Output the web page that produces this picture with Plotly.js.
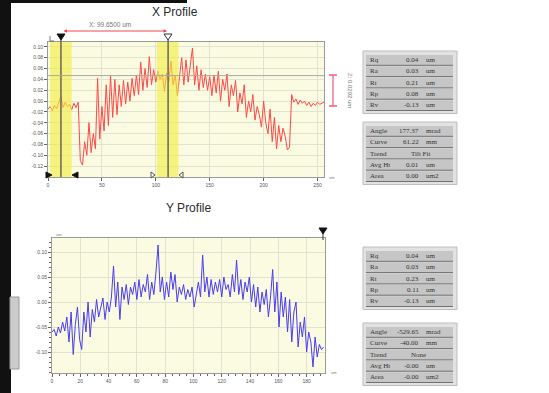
<!DOCTYPE html>
<html><head><meta charset="utf-8">
<script src="https://cdn.plot.ly/plotly-3.0.1.min.js"></script>
<style>html,body{margin:0;padding:0;background:#fff;}#c{width:549px;height:393px;}</style>
</head><body><div id="c"></div>
<script>
// ---- data ----
const xProfileStep = 2;   // um between samples
const xProfileZ = [
 -0.015,-0.010,-0.018,-0.008,-0.014,-0.004,0.009,-0.012,-0.002,-0.010,-0.006,-0.016,-0.004,-0.012,-0.002,
 -0.110,-0.118,-0.075,-0.100,-0.040,-0.095,-0.060,-0.088,0.042,-0.070,-0.010,-0.055,0.030,-0.045,0.048,
 -0.030,0.040,-0.025,0.030,-0.010,0.038,-0.005,0.035,0.000,0.042,0.010,0.048,0.012,0.072,0.020,0.060,
 0.025,0.082,0.030,0.058,0.035,0.055,0.040,0.050,0.018,0.052,0.035,0.074,0.030,0.048,0.010,0.045,
 0.080,0.030,0.076,0.035,0.070,0.098,0.030,0.065,0.020,0.058,0.025,0.050,0.020,0.045,0.010,0.048,
 0.015,0.055,0.000,0.040,0.020,0.050,-0.010,0.030,0.010,0.038,-0.020,0.015,-0.005,0.030,-0.030,0.000,
 -0.020,0.012,-0.035,-0.010,-0.025,-0.048,0.000,-0.040,-0.060,-0.015,-0.075,-0.030,-0.088,-0.045,
 -0.075,-0.050,-0.065,-0.090,-0.085,0.012,-0.002,0.004,-0.006,0.002,-0.004,0.000,-0.008,-0.002,
 -0.010,-0.004,-0.008,-0.002,-0.006,-0.004,-0.002
];
const yProfileStep = 1.5; // um between samples
const yProfileZ = [
 -0.060,-0.055,-0.068,-0.050,-0.062,-0.040,-0.058,-0.030,-0.080,-0.020,-0.105,-0.045,-0.010,-0.075,
 -0.095,-0.020,-0.060,0.000,-0.070,-0.015,-0.040,0.005,-0.030,-0.010,0.008,-0.035,0.000,-0.020,0.010,
 0.072,-0.010,0.040,-0.035,0.030,0.005,0.035,-0.005,0.030,0.015,0.040,0.005,0.045,0.010,0.035,0.020,
 0.055,0.005,0.040,0.015,0.060,0.114,0.020,0.050,0.005,0.040,0.010,0.060,0.025,0.055,0.000,0.030,
 0.015,0.035,0.005,0.025,0.010,0.030,-0.010,0.020,0.040,0.010,0.094,0.020,0.050,0.010,0.045,0.015,
 0.040,0.020,0.045,0.010,0.050,0.025,0.035,0.010,0.055,0.020,0.084,0.015,0.045,0.005,0.040,0.020,
 0.050,0.000,0.035,-0.010,0.030,-0.020,0.020,-0.005,0.025,-0.030,0.010,0.065,-0.020,0.040,-0.050,
 0.020,-0.030,0.010,-0.060,0.005,-0.080,-0.020,0.000,-0.090,-0.040,-0.070,-0.030,-0.100,-0.060,
 -0.080,-0.130,-0.070,-0.110,-0.085,-0.095,-0.090
];
const xProfileTicksX = [0,50,100,150,200,250];
const xProfileTicksY = [-0.12,-0.10,-0.08,-0.06,-0.04,-0.02,0.00,0.02,0.04,0.06,0.08,0.10];
const yProfileTicksX = [0,20,40,60,80,100,120,140,160,180];
const yProfileTicksY = [-0.10,-0.05,0.00,0.05,0.10];
const statNames = ['Rq','Ra','Rt','Rp','Rv'];
const statUnits = ['um','um','um','um','um'];
const xStatVals = ['0.04','0.03','0.21','0.08','-0.13'];
const yStatVals = ['0.04','0.03','0.23','0.11','-0.13'];
const fitNames = ['Angle','Curve','Trend','Avg Ht','Area'];
const fitUnits = ['mrad','mm','','um','um2'];
const xFitVals = ['177.37','61.22','Tilt Fit','0.01','0.00'];
const yFitVals = ['-529.65','-40.00','None','-0.00','-0.00'];
const cursorLabel = 'X: 99.6500 um';
const zLabel = 'Z: 0.0292 um';

// ---- helpers ----
const W = 549, H = 393;
const P = x => x / W;
const Q = y => 1 - y / H;
const xs1 = xProfileZ.map((_, i) => i * xProfileStep);
const xs2 = yProfileZ.map((_, i) => i * yProfileStep);

const tickFont = {family: 'Liberation Sans, Arial, sans-serif', size: 5, color: '#555'};
const shapes = [];
const ann = [];

function rectPx(x0, y0, x1, y1, fill, line, lw) {
  shapes.push({type: 'rect', xref: 'paper', yref: 'paper', x0: P(x0), x1: P(x1), y0: Q(y1), y1: Q(y0),
    fillcolor: fill, line: {color: line || fill, width: lw === undefined ? 0 : lw}, layer: 'above'});
}
function linePx(x0, y0, x1, y1, color, w) {
  shapes.push({type: 'line', xref: 'paper', yref: 'paper', x0: P(x0), x1: P(x1), y0: Q(y0), y1: Q(y1),
    line: {color: color, width: w}, layer: 'above'});
}
function pathPx(pts, fill, line) {
  const d = pts.map((p, i) => (i ? 'L' : 'M') + P(p[0]) + ',' + Q(p[1])).join(' ') + ' Z';
  shapes.push({type: 'path', xref: 'paper', yref: 'paper', path: d, fillcolor: fill,
    line: {color: line, width: 1}, layer: 'above'});
}
function textPx(x, y, t, opts) {
  ann.push(Object.assign({xref: 'paper', yref: 'paper', x: P(x), y: Q(y), text: t, showarrow: false,
    xanchor: 'left', yanchor: 'middle', font: {family: 'Liberation Serif, Times New Roman, serif', size: 7, color: '#333'}}, opts || {}));
}
function table(top, names, vals, units) {
  const rh = 11.3, n = names.length;
  rectPx(363, top - 3, 457, top + n * rh + 3, '#e2e2e2', '#bdbdbd', 1);
  for (let i = 0; i < n; i++) {
    const y0 = top + i * rh, y1 = y0 + rh;
    rectPx(366, y0 + 1, 453, y1, '#c6c6c6');
    linePx(366, y1, 453, y1, '#6f6f6f', 1);
    textPx(368, (y0 + y1) / 2 + 0.5, names[i]);
    if (units[i]) {
      textPx(421, (y0 + y1) / 2 + 0.5, vals[i], {xanchor: 'right'});
      textPx(424, (y0 + y1) / 2 + 0.5, units[i]);
    } else {
      textPx(409, (y0 + y1) / 2 + 0.5, vals[i]);
    }
  }
}

// ---- decorations ----
rectPx(0, 0, 11, 393, '#111');
rectPx(11, 0, 187, 3, '#111');
rectPx(10, 297, 19, 369, '#cbcbcb', '#9a9a9a', 1);

// yellow bands (drawn over the trace, translucent -> orange line inside)
[[2, 22], [101, 121]].forEach(b => shapes.push({type: 'rect', xref: 'x', yref: 'paper', x0: b[0], x1: b[1],
  y0: Q(177), y1: Q(42), fillcolor: '#f2ef3a', opacity: 0.6, line: {width: 0}, layer: 'above'}));
// cursor lines
[12, 111.4].forEach(c => shapes.push({type: 'line', xref: 'x', yref: 'paper', x0: c, x1: c,
  y0: Q(177), y1: Q(40), line: {color: '#666', width: 1.5}, layer: 'above'}));
// reference line
shapes.push({type: 'line', xref: 'paper', yref: 'y', x0: P(48), x1: P(324), y0: 0.047, y1: 0.047,
  line: {color: '#a8a8a0', width: 1}, layer: 'above'});

// top cursor markers
pathPx([[57, 34], [65, 34], [61, 40]], '#111', '#111');
pathPx([[164, 34], [172, 34], [168, 40]], '#fff', '#333');
linePx(50, 36, 50, 41, '#555', 0.8);
linePx(50, 41, 54, 41, '#555', 0.8);
// bottom markers
pathPx([[46, 172], [52, 175], [46, 178]], '#111', '#111');
pathPx([[78, 172], [72, 175], [78, 178]], '#111', '#111');
pathPx([[151, 172], [155, 175], [151, 178]], '#fff', '#555');
pathPx([[183, 172], [179, 175], [183, 178]], '#fff', '#555');
// Y plot marker
pathPx([[319, 228], [327, 228], [323, 234]], '#111', '#111');
linePx(323, 234, 323, 240, '#333', 1);

// red Z marker
linePx(333, 75, 333, 106, '#f05a7a', 1.2);
linePx(329, 75, 337, 75, '#f05a7a', 1.5);
linePx(329, 106, 337, 106, '#f05a7a', 1.5);
textPx(350, 90, zLabel, {xanchor: 'center', textangle: 90, font: {family: 'Liberation Sans, Arial, sans-serif', size: 6, color: '#777'}});

// red cursor distance arrow
ann.push({xref: 'paper', yref: 'paper', axref: 'paper', ayref: 'paper', x: P(167), y: Q(31), ax: P(62), ay: Q(31),
  text: '', showarrow: true, arrowside: 'end+start', arrowhead: 2, arrowsize: 0.7, arrowwidth: 1, arrowcolor: '#f04848'});
textPx(110, 25, cursorLabel, {xanchor: 'center', font: {family: 'Liberation Sans, Arial, sans-serif', size: 6.5, color: '#777'}});

// titles
textPx(175, 12, 'X Profile', {xanchor: 'center', font: {family: 'Liberation Sans, Arial, sans-serif', size: 12, color: '#2a2a2a'}});
textPx(188, 208, 'Y Profile', {xanchor: 'center', font: {family: 'Liberation Sans, Arial, sans-serif', size: 12, color: '#2a2a2a'}});
// tiny unit labels
textPx(327, 178, 'um', {font: {family: 'Liberation Sans', size: 4, color: '#777'}});
textPx(329, 372, 'um', {font: {family: 'Liberation Sans', size: 4, color: '#777'}});
textPx(54, 234, 'um', {font: {family: 'Liberation Sans', size: 4, color: '#777'}});

// tables
table(54, statNames, xStatVals, statUnits);
table(125, fitNames, xFitVals, fitUnits);
table(250, statNames, yStatVals, statUnits);
table(326, fitNames, yFitVals, fitUnits);

const axCommon = {showline: true, mirror: true, linecolor: '#9a9a9a', linewidth: 1, ticks: 'outside', ticklen: 3,
  tickcolor: '#666', tickfont: tickFont, showgrid: true, gridcolor: '#e2e2d2', gridwidth: 1, zeroline: false};

const layout = {
  width: W, height: H, margin: {l: 0, r: 0, t: 0, b: 0}, paper_bgcolor: '#ffffff', plot_bgcolor: '#fbfbe2',
  showlegend: false,
  xaxis: Object.assign({}, axCommon, {domain: [P(48), P(324)], range: [0, 256], anchor: 'y',
    tickvals: xProfileTicksX, ticktext: xProfileTicksX.map(String)}),
  yaxis: Object.assign({}, axCommon, {domain: [Q(177), Q(42)], range: [-0.14, 0.109], anchor: 'x',
    tickvals: xProfileTicksY, ticktext: xProfileTicksY.map(v => v.toFixed(2))}),
  xaxis2: Object.assign({}, axCommon, {domain: [P(52), P(325)], range: [0, 193], anchor: 'y2',
    tickvals: yProfileTicksX, ticktext: yProfileTicksX.map(String),
    minor: {ticks: 'outside', ticklen: 2, dtick: 5, tick0: 0, tickcolor: '#666', showgrid: false}}),
  yaxis2: Object.assign({}, axCommon, {domain: [Q(373), Q(238)], range: [-0.142, 0.128], anchor: 'x2',
    tickvals: yProfileTicksY, ticktext: yProfileTicksY.map(v => v.toFixed(2)),
    minor: {ticks: 'outside', ticklen: 2, dtick: 0.01, tick0: 0, tickcolor: '#666', showgrid: false}}),
  shapes: shapes, annotations: ann
};

const data = [
  {type: 'scatter', mode: 'lines', x: xs1, y: xProfileZ, xaxis: 'x', yaxis: 'y',
    line: {color: '#ff4848', width: 1}, hoverinfo: 'skip'},
  {type: 'scatter', mode: 'lines', x: xs2, y: yProfileZ, xaxis: 'x2', yaxis: 'y2',
    line: {color: '#4a3cf2', width: 1}, hoverinfo: 'skip'}
];
Plotly.newPlot('c', data, layout, {staticPlot: true, displayModeBar: false});
</script></body></html>
